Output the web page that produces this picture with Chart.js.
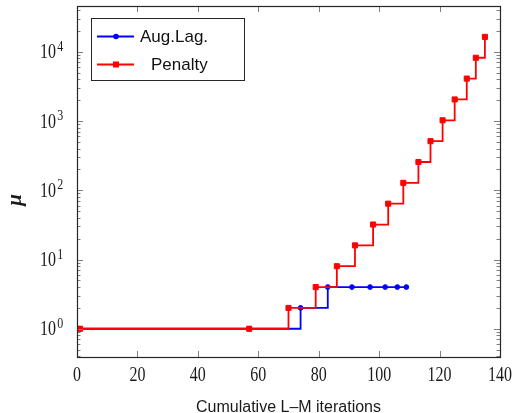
<!DOCTYPE html>
<html>
<head>
<meta charset="utf-8">
<script src="https://cdn.jsdelivr.net/npm/chart.js@4"></script>
<style>
html,body{margin:0;padding:0;background:#fff;}
#wrap{width:520px;height:413px;}
</style>
</head>
<body>
<div id="wrap"><canvas id="c" width="520" height="413"></canvas></div>
<script>
// ---- data ----
const penaltyX  = [1, 57, 70, 79, 86, 92, 98, 103, 108, 113, 117, 121, 125, 129, 132, 135];
const penaltyMu = [1, 1, 2, 4, 8, 16, 32, 64, 128, 256, 512, 1024, 2048, 4096, 8192, 16384];
const augLagX   = [1, 57, 74, 83, 91, 97, 102, 106, 109];
const augLagMu  = [1, 1, 2, 4, 4, 4, 4, 4, 4];
const xTickValues = [0, 20, 40, 60, 80, 100, 120, 140];
const yTickExponents = [0, 1, 2, 3, 4];
const seriesNames = ['Aug.Lag.', 'Penalty'];
const xTitle = 'Cumulative L\u2013M iterations';
const yTitle = '\u03bc';

const toPts = (xs, ys) => xs.map((x, i) => ({x: x, y: ys[i]}));

const BLUE = '#0000ff', RED = '#ff0000';

const decor = {
  id: 'decor',
  afterDatasetsDraw(chart) {
    const ctx = chart.ctx;
    const a = chart.chartArea;
    const xs = chart.scales.x, ys = chart.scales.y;
    ctx.save();
    // ticks
    ctx.strokeStyle = '#808080';
    ctx.lineWidth = 1;
    ctx.beginPath();
    xTickValues.forEach(v => {
      const px = Math.round(xs.getPixelForValue(v)) + 0.5;
      ctx.moveTo(px, a.bottom); ctx.lineTo(px, a.bottom - 6);
      ctx.moveTo(px, a.top); ctx.lineTo(px, a.top + 6);
    });
    for (let e = -1; e <= 4; e++) {
      for (let m = 1; m <= 9; m++) {
        const v = m * Math.pow(10, e);
        const py = ys.getPixelForValue(v);
        if (py < a.top || py > a.bottom) continue;
        const len = m === 1 ? 6 : 3.5;
        const p = Math.round(py) + 0.5;
        ctx.moveTo(a.left, p); ctx.lineTo(a.left + len, p);
        ctx.moveTo(a.right, p); ctx.lineTo(a.right - len, p);
      }
    }
    ctx.stroke();
    // frame
    ctx.strokeStyle = '#262626';
    ctx.lineWidth = 1.2;
    ctx.strokeRect(Math.round(a.left) + 0.5, Math.round(a.top) + 0.5,
                   Math.round(a.right - a.left), Math.round(a.bottom - a.top));

    // x tick labels (narrow serif)
    ctx.fillStyle = '#1a1a1a';
    ctx.textBaseline = 'alphabetic';
    xTickValues.forEach(v => {
      const px = xs.getPixelForValue(v);
      ctx.save();
      ctx.translate(px, a.bottom + 24);
      ctx.scale(0.8, 1);
      ctx.font = '20px "Liberation Serif"';
      ctx.textAlign = 'center';
      ctx.fillText(String(v), 0, 0);
      ctx.restore();
    });
    // y tick labels 10^n
    yTickExponents.forEach(e => {
      const py = ys.getPixelForValue(Math.pow(10, e));
      ctx.save();
      ctx.translate(40, py + 6.5);
      ctx.scale(0.8, 1);
      ctx.font = '20px "Liberation Serif"';
      ctx.textAlign = 'left';
      ctx.fillText('10', 0, 0);
      const w = ctx.measureText('10').width;
      ctx.font = '15px "Liberation Serif"';
      ctx.fillText(String(e), w + 1.5, -7.5);
      ctx.restore();
    });
    // axis titles
    ctx.font = '16px "Liberation Sans"';
    ctx.textAlign = 'center';
    ctx.fillText(xTitle, (a.left + a.right) / 2, 411.5);
    ctx.save();
    ctx.translate(21, 200);
    ctx.rotate(-Math.PI / 2);
    ctx.font = 'italic bold 21px "Liberation Serif"';
    ctx.textAlign = 'center';
    ctx.fillText(yTitle, 0, 0);
    ctx.restore();

    // legend
    const lx = 91, ly = 18, lw = 153, lh = 62;
    ctx.fillStyle = '#fff';
    ctx.fillRect(lx, ly, lw, lh);
    ctx.strokeStyle = '#262626';
    ctx.lineWidth = 1;
    ctx.strokeRect(lx + 0.5, ly + 0.5, lw, lh);
    const rows = [
      {name: seriesNames[0], color: BLUE, y: 36.5, tx: 140, shape: 'circle'},
      {name: seriesNames[1], color: RED, y: 64.5, tx: 151, shape: 'rect'}
    ];
    rows.forEach(r => {
      ctx.strokeStyle = r.color;
      ctx.lineWidth = 1.8;
      ctx.beginPath();
      ctx.moveTo(97, r.y); ctx.lineTo(134, r.y);
      ctx.stroke();
      ctx.fillStyle = r.color;
      if (r.shape === 'circle') {
        ctx.beginPath(); ctx.arc(116, r.y, 2.8, 0, Math.PI * 2); ctx.fill();
      } else {
        ctx.fillRect(113, r.y - 3, 6, 6);
      }
      ctx.fillStyle = '#111';
      ctx.font = '17px "Liberation Sans"';
      ctx.textAlign = 'left';
      ctx.textBaseline = 'middle';
      ctx.fillText(r.name, r.tx, r.y + 1);
    });
    ctx.restore();
  }
};

new Chart(document.getElementById('c'), {
  type: 'scatter',
  data: {
    datasets: [
      {
        label: seriesNames[1],
        data: toPts(penaltyX, penaltyMu),
        showLine: true,
        stepped: 'before',
        borderColor: RED,
        backgroundColor: RED,
        borderWidth: 1.8,
        pointStyle: 'rect',
        pointRadius: 3.6,
        pointBorderWidth: 1,
        order: 0
      },
      {
        label: seriesNames[0],
        data: toPts(augLagX, augLagMu),
        showLine: true,
        stepped: 'before',
        borderColor: BLUE,
        backgroundColor: BLUE,
        borderWidth: 1.8,
        pointStyle: 'circle',
        pointRadius: 2.4,
        pointBorderWidth: 1,
        order: 1
      }
    ]
  },
  options: {
    responsive: false,
    animation: false,
    devicePixelRatio: 1,
    layout: {padding: {left: 77, top: 6, right: 20, bottom: 56}},
    plugins: {legend: {display: false}, tooltip: {enabled: false}},
    scales: {
      x: {type: 'linear', min: 0, max: 140, display: false},
      y: {type: 'logarithmic', min: 0.391, max: 45800, display: false}
    }
  },
  plugins: [decor]
});
</script>
</body>
</html>
